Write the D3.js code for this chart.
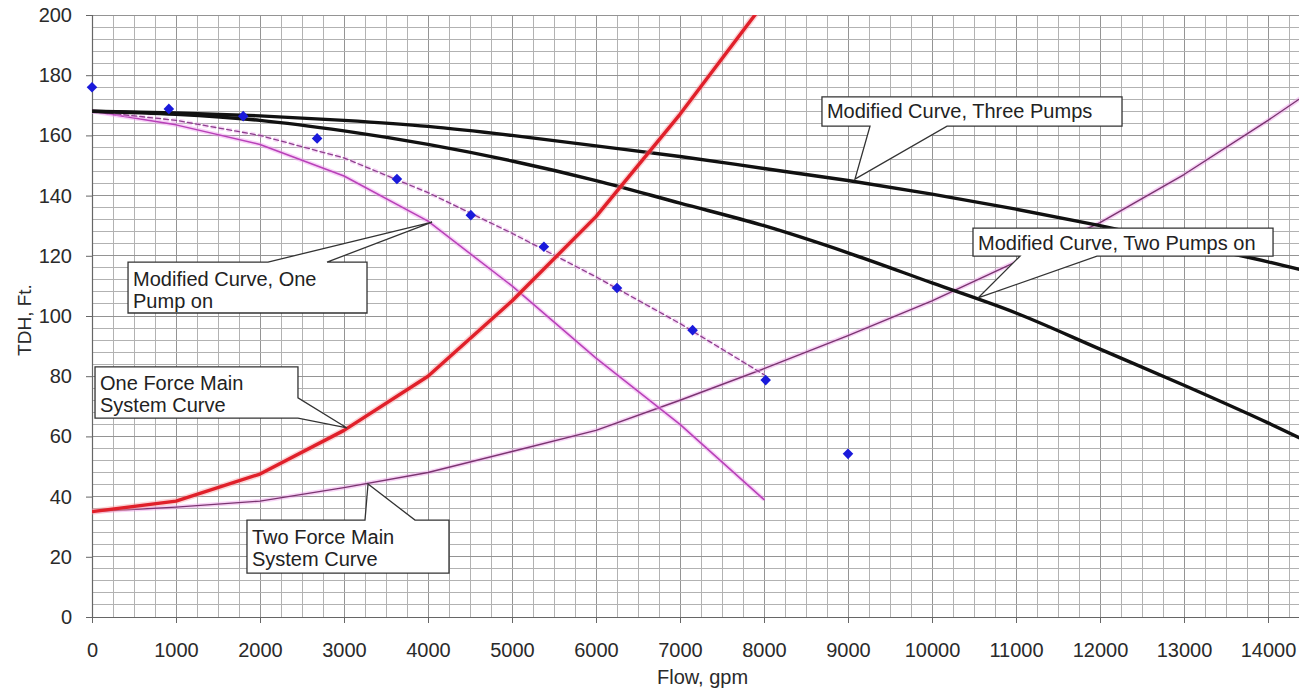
<!DOCTYPE html>
<html>
<head>
<meta charset="utf-8">
<script src="https://cdn.jsdelivr.net/npm/d3@7"></script>
<style>
  html, body { margin: 0; padding: 0; background: #fff; }
  svg { display: block; font-family: "Liberation Sans", Arial, sans-serif; }
</style>
</head>
<body>
<svg id="chart" width="1299" height="693"></svg>
<script>
// ---- data (flow in gpm, head in ft) ----
const flowShort = [0, 1000, 2000, 3000, 4000, 5000, 6000, 7000, 8000];
const oneForceMainSystem = [35, 38.5, 47.5, 62, 80, 105, 133, 167, 204];
const onePumpCurve = [168, 163.5, 157, 146.5, 131.5, 110, 86, 64, 39];
const onePumpModified = [168, 165, 160, 152.5, 141, 127.5, 113, 97.5, 80.5];

const flowWide = [0, 1000, 2000, 3000, 4000, 5000, 6000, 7000, 8000, 9000, 10000, 11000, 12000, 13000, 14000, 15000];
const twoForceMainSystem = [35, 36.5, 38.5, 43, 48, 55, 62, 72, 82.5, 93.5, 105, 118, 131, 147, 165, 184];
const twoPumpModified = [168, 167, 165, 161.5, 157, 151.5, 145, 137.5, 130, 121, 111, 101, 89, 77, 64.5, 51];
const threePumpModified = [168, 167.5, 166.5, 165, 163, 160, 156.5, 153, 149, 145, 140.5, 135.5, 130, 124, 118, 111];

const testFlow = [0, 915, 1800, 2680, 3630, 4510, 5380, 6250, 7150, 8020, 9000];
const testHead = [176, 168.8, 166.4, 159, 145.5, 133.5, 123, 109.3, 95.3, 78.7, 54.2];

const flowTickValues = [0, 1000, 2000, 3000, 4000, 5000, 6000, 7000, 8000, 9000, 10000, 11000, 12000, 13000, 14000];
const headTickValues = [0, 20, 40, 60, 80, 100, 120, 140, 160, 180, 200];

// ---- layout ----
const W = 1299, H = 693;
const plotLeft = 92, plotTop = 15, plotBottom = 617;
const pxPerThousand = 84;
const svg = d3.select("#chart");

const x = d3.scaleLinear().domain([0, 15000]).range([plotLeft, plotLeft + 15 * pxPerThousand]);
const y = d3.scaleLinear().domain([0, 200]).range([plotBottom, plotTop]);

svg.append("defs").append("clipPath").attr("id", "plot-clip")
  .append("rect").attr("x", plotLeft).attr("y", plotTop)
  .attr("width", W - plotLeft).attr("height", plotBottom - plotTop);

// ---- grid ----
const grid = svg.append("g").attr("shape-rendering", "crispEdges");
grid.selectAll("line.v").data(d3.range(0, 15001, 250)).join("line")
  .attr("x1", d => x(d)).attr("x2", d => x(d))
  .attr("y1", plotTop).attr("y2", plotBottom)
  .attr("stroke", d => d % 1000 === 0 ? "#949494" : "#b2b2b2").attr("stroke-width", 1);
grid.selectAll("line.h").data(d3.range(0, 201, 4)).join("line")
  .attr("x1", plotLeft).attr("x2", W)
  .attr("y1", d => y(d)).attr("y2", d => y(d))
  .attr("stroke", d => d % 20 === 0 ? "#949494" : "#b2b2b2").attr("stroke-width", 1);

// ---- axes ----
const xAxis = svg.append("g").attr("transform", `translate(0,${plotBottom})`)
  .call(d3.axisBottom(x).tickValues(flowTickValues).tickSize(6).tickPadding(20).tickFormat(d3.format("d")));
const yAxis = svg.append("g").attr("transform", `translate(${plotLeft},0)`)
  .call(d3.axisLeft(y).tickValues(headTickValues).tickSize(6).tickPadding(14).tickFormat(d3.format("d")));
[xAxis, yAxis].forEach(a => {
  a.select(".domain").attr("stroke", "#666").attr("stroke-width", 1.2);
  a.selectAll(".tick line").attr("stroke", "#666");
  a.selectAll(".tick text").attr("font-size", 20).attr("fill", "#2a2a2a")
    .attr("font-family", "Liberation Sans, Arial, sans-serif");
});
xAxis.select(".domain").attr("d", `M${plotLeft},0.5H${W}`);

svg.append("text").attr("x", 657).attr("y", 684)
  .attr("font-size", 20).attr("fill", "#2a2a2a").text("Flow, gpm");
svg.append("text").attr("transform", "translate(31,320) rotate(-90)")
  .attr("text-anchor", "middle").attr("font-size", 19).attr("fill", "#2a2a2a").text("TDH, Ft.");

// ---- curves ----
const plot = svg.append("g").attr("clip-path", "url(#plot-clip)");
const lineOf = (xs, ys, curve) => d3.line().curve(curve || d3.curveLinear)
  .x((d, i) => x(xs[i])).y(d => y(d))(ys);

function drawCurve(xs, ys, color, width, opts = {}) {
  if (opts.halo) {
    plot.append("path").attr("d", lineOf(xs, ys, opts.curve)).attr("fill", "none")
      .attr("stroke", opts.halo).attr("stroke-width", width + 3).attr("stroke-opacity", 0.45)
      .attr("stroke-dasharray", opts.dash || null);
  }
  plot.append("path").attr("d", lineOf(xs, ys, opts.curve)).attr("fill", "none")
    .attr("stroke", color).attr("stroke-width", width)
    .attr("stroke-linejoin", "round").attr("stroke-linecap", "round")
    .attr("stroke-dasharray", opts.dash || null);
}

drawCurve(flowWide, twoForceMainSystem, "#7a3470", 1.4, { halo: "#ee9be8" });
drawCurve(flowShort, onePumpCurve, "#b840b8", 1.5, { halo: "#f09cf0" });
drawCurve(flowShort, onePumpModified, "#8e3f8e", 1.3, { halo: "#f0a8f0", dash: "5,3" });
drawCurve(flowWide, threePumpModified, "#111", 3.4, { curve: d3.curveMonotoneX });
drawCurve(flowWide, twoPumpModified, "#111", 3.4, { curve: d3.curveMonotoneX });
drawCurve(flowShort, oneForceMainSystem, "#e0202a", 3.4, { halo: "#f7a0a4" });

// test points (diamonds), drawn unclipped so the one at zero flow stays whole
svg.append("g").selectAll("path").data(testHead).join("path")
  .attr("d", d3.symbol().type(d3.symbolSquare).size(56))
  .attr("transform", (d, i) => `translate(${x(testFlow[i])},${y(d)}) rotate(45)`)
  .attr("fill", "#1a1adb");

// ---- callouts (box corners and pointer tips in data units) ----
const callouts = [
  { lines: ["Modified Curve, Three Pumps"], box: [8690, 172.8, 12262, 163.1],
    tip: [9083, 145.5], side: "bottom", base: [9262, 10179] },
  { lines: ["Modified Curve, Two Pumps on"], box: [10488, 129.2, 14060, 119.9],
    tip: [10548, 106], side: "bottom", base: [11048, 11964] },
  { lines: ["Modified Curve, One", "Pump on"], box: [429, 117.9, 3274, 101],
    tip: [4048, 131.2], side: "top", base: [2095, 2798] },
  { lines: ["One Force Main", "System Curve"], box: [36, 83.1, 2452, 66.1],
    tip: [3036, 62.8], side: "right", base: [72.8, 66.1] },
  { lines: ["Two Force Main", "System Curve"], box: [1845, 32.2, 4250, 14.6],
    tip: [3286, 44.2], side: "top", base: [3250, 3845] }
];

const notes = svg.append("g");
callouts.forEach(c => {
  const x0 = x(c.box[0]), y0 = y(c.box[1]), x1 = x(c.box[2]), y1 = y(c.box[3]);
  const tx = x(c.tip[0]), ty = y(c.tip[1]);
  const p = d3.path();
  if (c.side === "top") {
    const a = x(c.base[0]), b = x(c.base[1]);
    p.moveTo(x0, y0); p.lineTo(a, y0); p.lineTo(tx, ty); p.lineTo(b, y0);
    p.lineTo(x1, y0); p.lineTo(x1, y1); p.lineTo(x0, y1); p.closePath();
  } else if (c.side === "bottom") {
    const a = x(c.base[0]), b = x(c.base[1]);
    p.moveTo(x0, y0); p.lineTo(x1, y0); p.lineTo(x1, y1); p.lineTo(b, y1);
    p.lineTo(tx, ty); p.lineTo(a, y1); p.lineTo(x0, y1); p.closePath();
  } else {
    const a = y(c.base[0]), b = y(c.base[1]);
    p.moveTo(x0, y0); p.lineTo(x1, y0); p.lineTo(x1, a); p.lineTo(tx, ty);
    p.lineTo(x1, b); p.lineTo(x1, y1); p.lineTo(x0, y1); p.closePath();
  }
  notes.append("path").attr("d", p.toString())
    .attr("fill", "#fff").attr("stroke", "#333").attr("stroke-width", 1.3)
    .attr("stroke-linejoin", "miter");
  const firstBaseline = c.lines.length === 1 ? y0 + 21.5 : y0 + 23.5;
  c.lines.forEach((t, i) => {
    notes.append("text").attr("x", x0 + 5).attr("y", firstBaseline + i * 22)
      .attr("font-size", 20).attr("fill", "#222").text(t);
  });
});
</script>
</body>
</html>
